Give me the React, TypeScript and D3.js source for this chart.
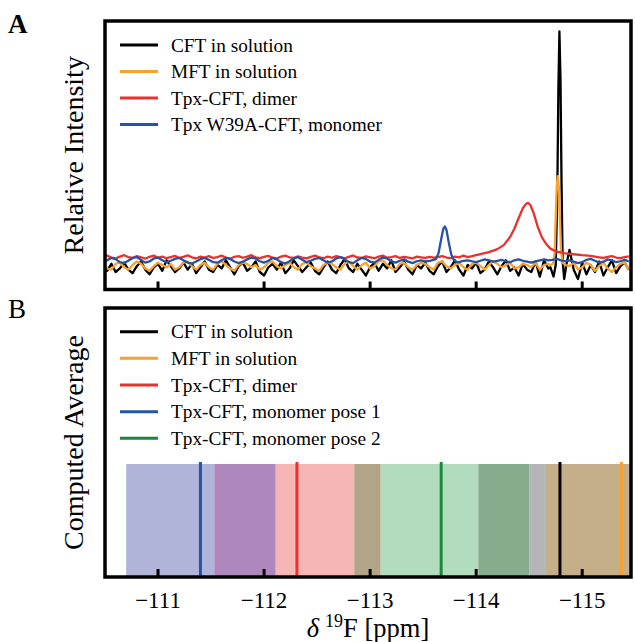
import React from "react";
import * as d3 from "d3";

// ---------- DATA ----------
const ppmTicks = [-111, -112, -113, -114, -115];
const xDomain = [-110.5, -115.46];

// shared sampling grid of the measured spectra (ppm), step 0.04 from -110.48
const gridStart = -110.48;
const gridStep = 0.04;

const cftNoise = [
  -0.01, -0.025, 0.005, -0.03, -0.015, 0.01, -0.02, -0.035, -0.005, 0.015, -0.02, -0.04, -0.01, 0.005, -0.025, 0.02, -0.005, -0.03, -0.015, 0.01, -0.02, 0.005, -0.035, -0.01, 0.015, -0.02,
  -0.03, 0.0, -0.015, 0.02, -0.01, -0.04, -0.005, 0.01, -0.025, -0.01, 0.015, -0.03, -0.045, -0.01, 0.005, -0.02, 0.01, -0.035, -0.015, 0.02, -0.005, -0.03, -0.01, 0.01, -0.025,
  -0.04, -0.01, 0.015, -0.02, -0.035, 0.0, 0.025, -0.015, -0.03, 0.005, -0.02, -0.045, -0.01, 0.01, -0.025, 0.005, -0.015, 0.02, -0.03, -0.01, 0.015, -0.02, -0.04, 0.0, -0.015,
  0.01, -0.025, -0.04, -0.005, 0.015, -0.03, -0.01, 0.02, -0.02, -0.045, 0.0, -0.015, 0.01, -0.035, -0.02, 0.015, -0.01, -0.04, -0.005, 0.02, -0.025, -0.01, -0.045, 0.005, -0.02,
  -0.03, 0.015, -0.05, 0.02, -0.015, 0, 0, 0, 0, 0.065, -0.02, -0.06, 0.01, -0.04, 0.0, -0.03, 0.015, -0.045, -0.01, 0.02, -0.035, -0.005, 0.01, -0.02,
];
const cftPeak: [number, number][] = [
  [-114.7, -0.01], [-114.73, -0.05], [-114.75, 0.0], [-114.765, 0.3], [-114.775, 0.75], [-114.785, 1.0],
  [-114.795, 0.8], [-114.805, 0.35], [-114.815, 0.02], [-114.83, -0.06], [-114.85, 0.0],
];

const mftNoise = [
  0.0, -0.015, -0.02, 0.005, 0.01, -0.01, -0.02, 0.0, 0.015, 0.005, -0.015, -0.025, -0.005, 0.01, 0.0, -0.01, 0.005, -0.02, -0.01, 0.01, 0.015, -0.005, -0.02, 0.0, 0.01, -0.01,
  -0.02, 0.005, 0.015, 0.0, -0.015, -0.025, 0.0, 0.01, 0.005, -0.01, 0.0, -0.02, -0.01, 0.01, 0.015, -0.005, -0.015, 0.0, 0.01, -0.01, -0.02, 0.005, 0.01, -0.005, -0.015,
  -0.025, 0.0, 0.01, 0.005, -0.01, -0.02, 0.005, 0.015, -0.005, -0.02, 0.0, 0.01, -0.015, -0.005, 0.015, 0.02, 0.0, -0.015, -0.02, 0.005, 0.01, -0.01, -0.02, 0.0, 0.01,
  0.005, -0.01, -0.02, 0.01, 0.015, -0.005, -0.015, 0.0, 0.01, -0.01, -0.02, 0.005, 0.01, -0.005, -0.02, 0.0, 0.015, 0.005, -0.01, 0.0, 0.01, -0.015, -0.01, 0.005, 0.0,
  -0.01, 0.01, -0.02, 0.0, 0.005, 0, 0, 0, 0, -0.005, 0.01, -0.02, -0.01, 0.01, 0.0, -0.025, -0.005, 0.01, -0.015, -0.03, -0.01, 0.005, 0.01, -0.02,
];
const mftPeak: [number, number][] = [
  [-114.7, 0.0], [-114.725, 0.005], [-114.74, 0.05], [-114.75, 0.2], [-114.76, 0.34], [-114.77, 0.38],
  [-114.78, 0.33], [-114.79, 0.2], [-114.8, 0.06], [-114.815, 0.01], [-114.84, 0.0],
];

const dimerNoise = [
  0.035, 0.04, 0.032, 0.028, 0.036, 0.042, 0.034, 0.03, 0.038, 0.033, 0.027, 0.035, 0.04, 0.031, 0.036, 0.029, 0.034, 0.039, 0.03, 0.035, 0.041, 0.033, 0.028, 0.036, 0.032, 0.038,
  0.03, 0.034, 0.04, 0.032, 0.027, 0.035, 0.038, 0.031, 0.036, 0.042, 0.033, 0.029, 0.035, 0.039, 0.031, 0.028, 0.036, 0.04, 0.033, 0.03, 0.037, 0.032, 0.028, 0.035, 0.04,
  0.033, 0.029, 0.036, 0.031, 0.038, 0.034, 0.028, 0.035, 0.041, 0.032, 0.03, 0.037, 0.033, 0.029, 0.036, 0.04, 0.031, 0.034, 0.038, 0.03, 0.035, 0.032, 0.028, 0.036, 0.033,
  0.03, 0.035, 0.031, 0.034, 0.038, 0.032, 0.029, 0.036, 0.033, 0.04, 0.034, 0, 0, 0, 0, 0, 0, 0, 0, 0, 0, 0, 0, 0, 0,
  0, 0, 0, 0, 0, 0, 0, 0, 0, 0, 0, 0, 0, 0, 0, 0.036, 0.033, 0.03, 0.035, 0.038, 0.032, 0.029, 0.034, 0.037,
];
const dimerPeak: [number, number][] = [
  [-113.96, 0.038], [-114.04, 0.047], [-114.12, 0.055], [-114.2, 0.068], [-114.26, 0.085], [-114.32, 0.12],
  [-114.36, 0.155], [-114.4, 0.2], [-114.44, 0.243], [-114.47, 0.262], [-114.49, 0.266], [-114.51, 0.258],
  [-114.54, 0.225], [-114.58, 0.164], [-114.62, 0.118], [-114.66, 0.09], [-114.7, 0.07], [-114.76, 0.057],
  [-114.84, 0.05], [-114.92, 0.046], [-115.0, 0.042], [-115.08, 0.039],
];

const monomerNoise = [
  0.015, 0.02, 0.03, 0.025, 0.012, 0.008, 0.018, 0.03, 0.034, 0.022, 0.01, 0.015, 0.028, 0.032, 0.02, 0.012, 0.018, 0.026, 0.03, 0.02, 0.01, 0.006, 0.015, 0.025, 0.03, 0.022,
  0.012, 0.01, 0.02, 0.03, 0.026, 0.015, 0.008, 0.014, 0.024, 0.032, 0.028, 0.016, 0.01, 0.018, 0.03, 0.024, 0.012, 0.006, 0.016, 0.028, 0.034, 0.022, 0.012, 0.018, 0.026,
  0.03, 0.02, 0.01, 0.015, 0.028, 0.034, 0.024, 0.012, 0.008, 0.02, 0.03, 0.026, 0.014, 0.01, 0.022, 0.032, 0.028, 0.016, 0.01, 0.018, 0.024, 0.014, 0.008, 0.016, 0.02,
  0.015, 0.018, 0, 0, 0, 0, 0, 0, 0.012, 0.018, 0.02, 0.016, 0.012, 0.018, 0.024, 0.02, 0.014, 0.018, 0.022, 0.016, 0.012, 0.02, 0.024, 0.018, 0.014,
  0.01, 0.015, 0.02, 0.024, 0.02, 0.022, 0.026, 0.02, 0.016, 0.02, 0.014, 0.008, 0.012, 0.022, 0.026, 0.018, 0.01, 0.014, 0.024, 0.02, 0.012, 0.016, 0.022, 0.015,
];
const monomerPeak: [number, number][] = [
  [-113.58, 0.02], [-113.62, 0.025], [-113.645, 0.05], [-113.67, 0.11], [-113.69, 0.155], [-113.705, 0.165],
  [-113.72, 0.15], [-113.74, 0.1], [-113.765, 0.045], [-113.79, 0.02], [-113.82, 0.012],
];

const spectraLabels = ["CFT in solution", "MFT in solution", "Tpx-CFT, dimer", "Tpx W39A-CFT, monomer"];
const spectraColors = ["#000000", "#f8a12f", "#e8322b", "#2553a6"];

// panel B: computed averages
const computedLabels = [
  "CFT in solution",
  "MFT in solution",
  "Tpx-CFT, dimer",
  "Tpx-CFT, monomer pose 1",
  "Tpx-CFT, monomer pose 2",
];
const computedColors = ["#000000", "#f8a12f", "#e8322b", "#2553a6", "#17893b"];
const computedShifts = [-114.79, -115.37, -112.31, -111.4, -113.67];

// shaded ranges (segment edges, ppm) and their fill colours
const bandEdges = [-110.7, -111.53, -112.11, -112.85, -113.1, -114.02, -114.5, -114.65, -115.6];
const bandColors = ["#b0b4d9", "#ae88bd", "#f6b6b6", "#b3a688", "#b3dcbe", "#86ac8e", "#b3b5b6", "#c5ae8a"];

// ---------- LAYOUT ----------
const W = 635;
const H = 642;
const left = 105;
const right = 631;
const aTop = 21;
const aBottom = 289.5;
const bTop = 308;
const bBottom = 577;
const bandTop = 464;
const FONT = "'Liberation Serif', 'Times New Roman', serif";

function buildSeries(noise: number[], peak: [number, number][]): [number, number][] {
  const lo = d3.min(peak, (p) => p[0])! - 1e-6;
  const hi = d3.max(peak, (p) => p[0])! + 1e-6;
  const base: [number, number][] = noise.map((v, i) => [gridStart - i * gridStep, v] as [number, number]);
  const kept = base.filter((p) => p[0] < lo || p[0] > hi);
  return kept.concat(peak).sort((a, b) => b[0] - a[0]);
}

export default function App() {
  const x = d3.scaleLinear().domain(xDomain).range([left, right]);
  const yA = d3.scaleLinear().domain([-0.105, 1.045]).range([aBottom, aTop]);

  const series = [
    buildSeries(cftNoise, cftPeak),
    buildSeries(mftNoise, mftPeak),
    buildSeries(dimerNoise, dimerPeak),
    buildSeries(monomerNoise, monomerPeak),
  ];
  const line = d3
    .line<[number, number]>()
    .x((d) => x(d[0]))
    .y((d) => yA(d[1]));

  const legendA = [45, 71.5, 98, 124.5];
  const legendB = [331.7, 358.3, 385, 411.7, 438.3];

  const ticks = (bottom: number) =>
    ppmTicks.map((t) => (
      <line key={t} x1={x(t)} x2={x(t)} y1={bottom} y2={bottom - 8} stroke="#000" strokeWidth={3} />
    ));

  const fmt = d3.format("d");

  return (
    <svg
      width={W}
      height={H}
      viewBox={`0 0 ${W} ${H}`}
      style={{ position: "absolute", left: 0, top: 0, background: "#fff" }}
      fontFamily={FONT}
    >
      <defs>
        <clipPath id="clipA">
          <rect x={left} y={aTop} width={right - left} height={aBottom - aTop} />
        </clipPath>
        <clipPath id="clipB">
          <rect x={left} y={bTop} width={right - left} height={bBottom - bTop} />
        </clipPath>
      </defs>
      <rect x={0} y={0} width={W} height={H} fill="#fff" />

      {/* Panel A */}
      <g clipPath="url(#clipA)">
        {series.map((s, i) => (
          <path key={i} d={line(s) || ""} fill="none" stroke={spectraColors[i]} strokeWidth={2.3} strokeLinejoin="round" />
        ))}
      </g>
      {ticks(aBottom)}
      <rect x={left} y={aTop} width={right - left} height={aBottom - aTop} fill="none" stroke="#000" strokeWidth={3.5} />
      {spectraLabels.map((lab, i) => (
        <g key={lab}>
          <line x1={120} x2={158} y1={legendA[i]} y2={legendA[i]} stroke={spectraColors[i]} strokeWidth={3} />
          <text x={171} y={legendA[i] + 6.5} fontSize={19.3}>
            {lab}
          </text>
        </g>
      ))}
      <text
        transform={`translate(${83},${(aTop + aBottom) / 2}) rotate(-90)`}
        textAnchor="middle"
        fontSize={28}
      >
        Relative Intensity
      </text>
      <text x={8} y={33} fontSize={27} fontWeight="bold">
        A
      </text>

      {/* Panel B */}
      <g clipPath="url(#clipB)">
        {bandColors.map((c, i) => (
          <rect
            key={i}
            x={x(bandEdges[i])}
            y={bandTop}
            width={x(bandEdges[i + 1]) - x(bandEdges[i])}
            height={bBottom - bandTop}
            fill={c}
          />
        ))}
        {computedShifts.map((v, i) => (
          <line key={i} x1={x(v)} x2={x(v)} y1={bandTop - 2} y2={bBottom} stroke={computedColors[i]} strokeWidth={3} />
        ))}
      </g>
      {ticks(bBottom)}
      <rect x={left} y={bTop} width={right - left} height={bBottom - bTop} fill="none" stroke="#000" strokeWidth={3.5} />
      {computedLabels.map((lab, i) => (
        <g key={lab}>
          <line x1={120} x2={158} y1={legendB[i]} y2={legendB[i]} stroke={computedColors[i]} strokeWidth={3} />
          <text x={171} y={legendB[i] + 6.5} fontSize={19.3}>
            {lab}
          </text>
        </g>
      ))}
      <text
        transform={`translate(${83},${(bTop + bBottom) / 2}) rotate(-90)`}
        textAnchor="middle"
        fontSize={28}
      >
        Computed Average
      </text>
      <text x={8} y={318} fontSize={27}>
        B
      </text>

      {ppmTicks.map((t) => (
        <text key={t} x={x(t)} y={608} textAnchor="middle" fontSize={23}>
          {"\u2212" + fmt(Math.abs(t))}
        </text>
      ))}
      <text x={(left + right) / 2} y={637} textAnchor="middle" fontSize={26.5}>
        <tspan fontStyle="italic">δ</tspan>
        <tspan dx={6} dy={-10} fontSize={18}>
          19
        </tspan>
        <tspan dy={10}>F [ppm]</tspan>
      </text>
    </svg>
  );
}
